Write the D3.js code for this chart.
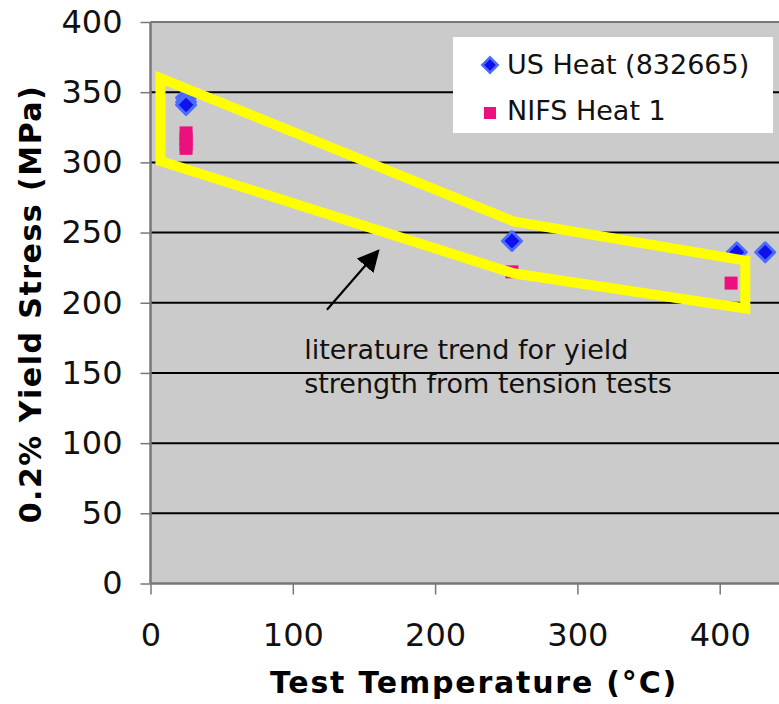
<!DOCTYPE html>
<html>
<head>
<meta charset="utf-8">
<script src="https://cdn.jsdelivr.net/npm/d3@7"></script>
<style>
  body { margin: 0; background: #fff; }
  svg { display: block; font-family: "DejaVu Sans", Verdana, sans-serif; }
</style>
</head>
<body>
<svg id="chart" width="779" height="704"></svg>
<script>
// values
var usTemp = [25, 25, 25, 254, 412, 432];
var usYield = [346, 343, 341, 244, 236, 236];
var nifsTemp = [25, 25, 25, 25, 254, 408];
var nifsYield = [321, 317, 313, 310, 222, 214];
// literature trend band (temperature, stress)
var bandTemp = [7, 255, 418, 418, 255, 7];
var bandYield = [360, 258, 230, 196, 221, 301];
var xTicks = [0, 100, 200, 300, 400];
var yTicks = [0, 50, 100, 150, 200, 250, 300, 350, 400];
var seriesNames = ['US Heat (832665)', 'NIFS Heat 1'];
var noteLines = ['literature trend for yield', 'strength from tension tests'];

var svg = d3.select('#chart');
var plotLeft = 150.5, plotTop = 22, plotBottom = 583.5;

var x = d3.scaleLinear().domain([0, 450]).range([plotLeft, plotLeft + 450 * 1.423]);
var y = d3.scaleLinear().domain([0, 400]).range([plotBottom, plotTop]);

// plot area
svg.append('rect')
  .attr('x', x(0)).attr('y', y(400))
  .attr('width', x(450) - x(0)).attr('height', y(0) - y(400))
  .attr('fill', '#cbcbcb');

// grid lines
svg.append('g').selectAll('line')
  .data(yTicks.filter(function(d) { return d > 0; }))
  .enter().append('line')
  .attr('x1', x(0)).attr('x2', x(450))
  .attr('y1', function(d) { return y(d); })
  .attr('y2', function(d) { return y(d); })
  .attr('stroke', function(d) { return d === 400 ? '#777' : '#000'; })
  .attr('stroke-width', 2);

// axes
var yAxis = svg.append('g')
  .attr('transform', 'translate(' + x(0) + ',0)')
  .call(d3.axisLeft(y).tickValues(yTicks).tickSize(10).tickPadding(18));
var xAxis = svg.append('g')
  .attr('transform', 'translate(0,' + y(0) + ')')
  .call(d3.axisBottom(x).tickValues(xTicks).tickSize(11).tickPadding(29));

[yAxis, xAxis].forEach(function(ax) {
  ax.select('.domain').attr('stroke', '#777').attr('stroke-width', 2.5);
  ax.selectAll('.tick line').attr('stroke', '#777').attr('stroke-width', 1.5);
  ax.selectAll('.tick text')
    .attr('fill', '#111')
    .style('font-family', '"DejaVu Sans", Verdana, sans-serif')
    .style('font-size', '32px');
});
xAxis.select('.domain').attr('d', 'M' + x(0) + ',0H' + x(450));
yAxis.select('.domain').attr('d', 'M0,' + y(0) + 'V' + y(400));

// points
var diamond = d3.symbol().type(d3.symbolDiamond2).size(230);
svg.append('g').selectAll('rect')
  .data(nifsTemp.map(function(t, i) { return [t, nifsYield[i]]; }))
  .enter().append('rect')
  .attr('x', function(d) { return x(d[0]) - 6.5; })
  .attr('y', function(d) { return y(d[1]) - 6.5; })
  .attr('width', 13).attr('height', 13)
  .attr('fill', '#ec107f');

svg.append('g').selectAll('path')
  .data(usTemp.map(function(t, i) { return [t, usYield[i]]; }))
  .enter().append('path')
  .attr('d', diamond)
  .attr('transform', function(d) { return 'translate(' + x(d[0]) + ',' + y(d[1]) + ')'; })
  .attr('fill', '#1010ee')
  .attr('stroke', '#4a6cff')
  .attr('stroke-width', 3)
  .attr('stroke-linejoin', 'round');

// yellow band
var band = bandTemp.map(function(t, i) { return [x(t), y(bandYield[i])]; });
svg.append('path')
  .attr('d', d3.line()(band) + 'Z')
  .attr('fill', 'none')
  .attr('stroke', '#ffff00')
  .attr('stroke-width', 10)
  .attr('stroke-linejoin', 'miter');

// arrow
svg.append('defs').append('marker')
  .attr('id', 'head')
  .attr('viewBox', '0 0 10 10')
  .attr('refX', 9).attr('refY', 5)
  .attr('markerWidth', 10).attr('markerHeight', 10)
  .attr('orient', 'auto')
  .append('path').attr('d', 'M0,0L10,5L0,10Z').attr('fill', '#000');
svg.append('line')
  .attr('x1', x(124)).attr('y1', y(195))
  .attr('x2', x(160)).attr('y2', y(237))
  .attr('stroke', '#000').attr('stroke-width', 2.2)
  .attr('marker-end', 'url(#head)');

// note
var note = svg.append('text')
  .attr('x', x(108)).attr('y', y(160))
  .attr('fill', '#111')
  .style('font-size', '27px');
note.selectAll('tspan').data(noteLines).enter().append('tspan')
  .attr('x', x(108))
  .attr('dy', function(d, i) { return i === 0 ? 0 : 34; })
  .text(function(d) { return d; });

// legend
var legend = svg.append('g');
legend.append('rect')
  .attr('x', 453).attr('y', 37).attr('width', 320).attr('height', 96)
  .attr('fill', '#fff');
legend.append('path')
  .attr('d', d3.symbol().type(d3.symbolDiamond2).size(150))
  .attr('transform', 'translate(490,65)')
  .attr('fill', '#1010ee').attr('stroke', '#4a6cff').attr('stroke-width', 2.5);
legend.append('rect')
  .attr('x', 484).attr('y', 107).attr('width', 12).attr('height', 12)
  .attr('fill', '#ec107f');
legend.selectAll('text').data(seriesNames).enter().append('text')
  .attr('x', 507)
  .attr('y', function(d, i) { return 74 + i * 46; })
  .attr('fill', '#111')
  .style('font-size', '27px')
  .text(function(d) { return d; });

// axis titles
svg.append('text')
  .attr('x', 474).attr('y', 693)
  .attr('text-anchor', 'middle')
  .style('font-size', '30px').style('font-weight', 'bold')
  .style('letter-spacing', '1.8px')
  .text('Test Temperature (°C)');
svg.append('text')
  .attr('transform', 'translate(41,304) rotate(-90)')
  .attr('text-anchor', 'middle')
  .style('font-size', '30px').style('font-weight', 'bold')
  .style('letter-spacing', '1.5px')
  .text('0.2% Yield Stress (MPa)');
</script>
</body>
</html>
